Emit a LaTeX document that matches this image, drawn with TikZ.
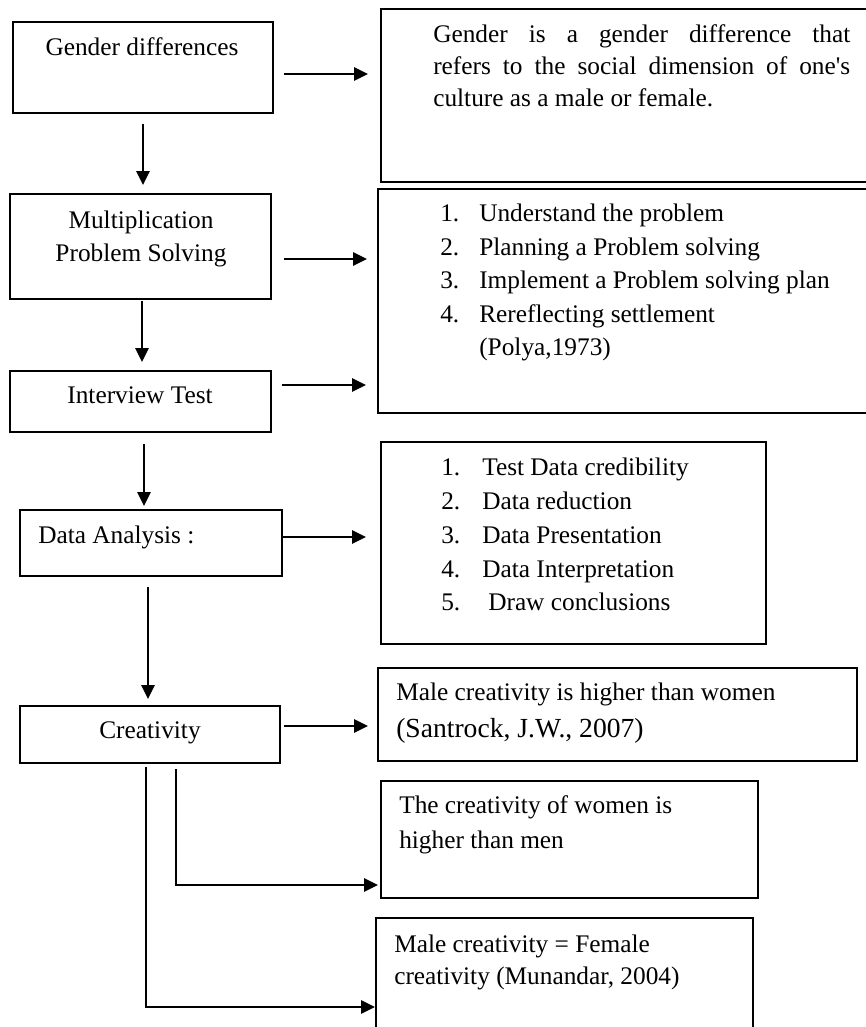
\documentclass[tikz,border=0pt]{standalone}
\usepackage{fontspec}
\setmainfont{Liberation Serif}
\usetikzlibrary{arrows.meta,fit,calc}
\begin{document}
\begin{tikzpicture}[x=0.75pt,y=-0.75pt,
  box/.style={draw=black, line width=1.2pt, inner sep=0pt, outer sep=0pt},
  txt/.style={inner sep=0pt, anchor=base west, font=\fontsize{19}{25}\selectfont},
  ctxt/.style={txt, anchor=base},
  bigtxt/.style={txt, font=\fontsize{20.7}{26}\selectfont},
  arr/.style={line width=1.5pt, -{Triangle[length=10.5pt,width=10pt]}}]
\useasboundingbox (0,0) rectangle (866,1027);
\clip (0,0) rectangle (866,1027);

% left column boxes
\node[box, fit={(13,22)(273,113)}] (A) {};
\node[box, fit={(10,194)(271,299)}] (B) {};
\node[box, fit={(10,371)(271,432)}] (C) {};
\node[box, fit={(20,510)(282,576)}] (D) {};
\node[box, fit={(20,706)(280,763)}] (E) {};
% right column boxes
\node[box, fit={(381,9)(900,182)}] (R1) {};
\node[box, fit={(378,189)(900,413)}] (R2) {};
\node[box, fit={(381,442)(766,644)}] (R3) {};
\node[box, fit={(378,668)(857,761)}] (R4) {};
\node[box, fit={(381,781)(758,898)}] (R5) {};
\node[box, fit={(376,918)(753,1060)}] (R6) {};

% left texts
\node[ctxt] (At) at (142,56) {Gender differences};
\node[ctxt] (Bt1) at (141,228) {Multiplication};
\node[ctxt] (Bt2) at (141,261) {Problem Solving};
\node[ctxt] (Ct) at (140,403) {Interview Test};
\node[txt] (Dt) at (38,543) {Data Analysis :};
\node[ctxt] (Et) at (150,738) {Creativity};

% R1 text
\node[txt] (R1a) at (433,43) {\makebox[312.75pt][s]{Gender is a gender difference that}};
\node[txt] (R1b) at (433,75) {\makebox[312.75pt][s]{refers to the social dimension of one\textquotesingle s}};
\node[txt] (R1c) at (433,107) {culture as a male or female.};

% R2 list
\foreach \n/\t/\yy in {1/Understand the problem/221, 2/Planning a Problem solving/255, 3/Implement a Problem solving plan/288, 4/Rereflecting settlement/322}{
  \node[txt] (R2n\n) at (440,\yy) {\n.};
  \node[txt] (R2t\n) at (479,\yy) {\t};
}
\node[txt] (R2p) at (479,355) {(Polya,1973)};

% R3 list
\foreach \n/\t/\yy/\xx in {1/Test Data credibility/475/482, 2/Data reduction/509/482, 3/Data Presentation/543/482, 4/Data Interpretation/577/482, 5/Draw conclusions/610/488}{
  \node[txt] (R3n\n) at (441,\yy) {\n.};
  \node[txt] (R3t\n) at (\xx,\yy) {\t};
}

% R4-R6 texts
\node[txt] (R4a) at (396,700) {Male creativity is higher than women};
\node[bigtxt] (R4b) at (396,737) {(Santrock, J.W., 2007)};
\node[txt] (R5a) at (399,813) {The creativity of women is};
\node[txt] (R5b) at (399,848) {higher than men};
\node[txt] (R6a) at (394,952) {Male creativity = Female};
\node[txt] (R6b) at (394,984) {creativity (Munandar, 2004)};

% connectors
\draw[arr] ($(A.east)+(11,6.5)$) -- ($(R1.west|-A.east)+(-13,6.5)$);
\draw[arr] ($(A.south)+(0,11)$) -- ($(A.south|-B.north)+(0,-9)$);
\draw[arr] ($(B.east)+(13,12.5)$) -- ($(R2.west|-B.east)+(-11,12.5)$);
\draw[arr] ($(B.south)+(1.5,2)$) -- ($(B.south|-C.north)+(1.5,-9)$);
\draw[arr] ($(C.east)+(11,-16.5)$) -- ($(R2.west|-C.east)+(-12,-16.5)$);
\draw[arr] ($(C.south)+(3.5,12)$) -- ($(C.south|-D.north)+(3.5,-4)$);
\draw[arr] ($(D.east)+(1,-6)$) -- ($(R3.west|-D.east)+(-15,-6)$);
\draw[arr] ($(D.south)+(-3,11)$) -- ($(D.south|-E.north)+(-3,-7)$);
\draw[arr] ($(E.east)+(4,-8.5)$) -- ($(R4.west|-E.east)+(-10,-8.5)$);
\draw[arr] ($(E.south)+(26,6)$) |- ($(R5.west)+(-3,45.5)$);
\draw[arr] ($(E.south)+(-4,4)$) |- ($(R6.west)+(-1,18)$);
\end{tikzpicture}
\end{document}
